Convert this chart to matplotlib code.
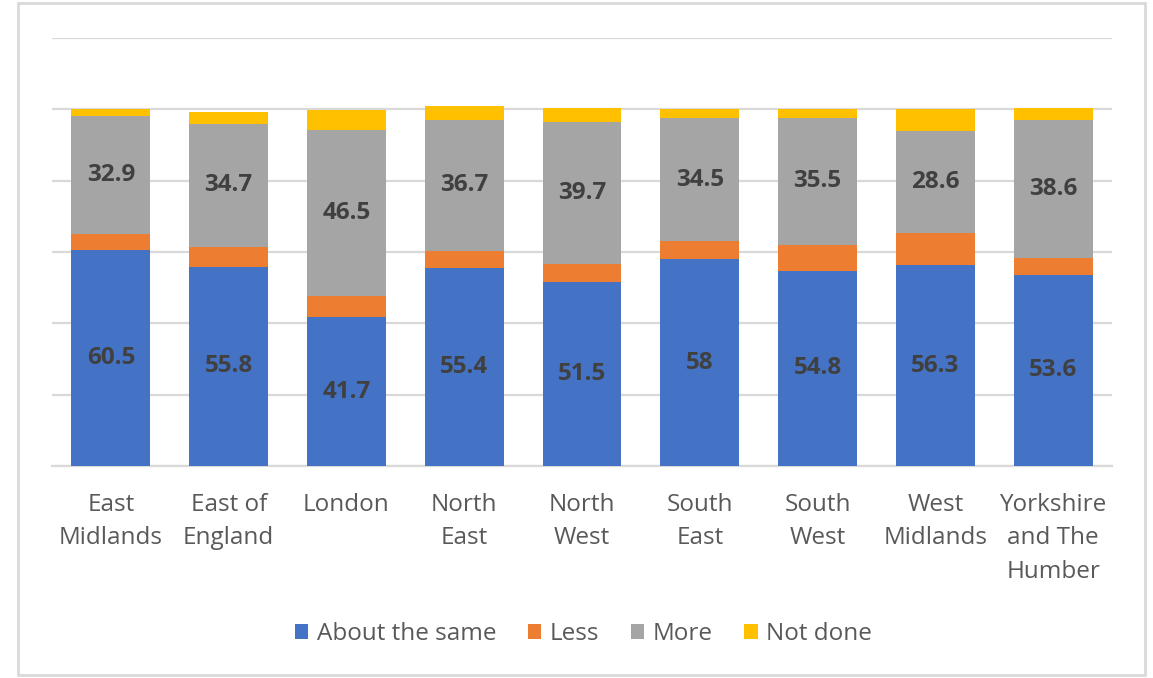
import numpy as np
import matplotlib
matplotlib.use("Agg")
from matplotlib import pyplot as plt
from matplotlib.patches import Rectangle

regiones = ["East\nMidlands", "East of\nEngland", "London", "North\nEast", "North\nWest",
            "South\nEast", "South\nWest", "West\nMidlands", "Yorkshire\nand The\nHumber"]

igual = [60.5, 55.8, 41.7, 55.4, 51.5, 58, 54.8, 56.3, 53.6]
menos = [4.6, 5.5, 6.1, 5.0, 5.2, 5.0, 7.3, 9.1, 4.7]
mas = [32.9, 34.7, 46.5, 36.7, 39.7, 34.5, 35.5, 28.6, 38.6]
no_hecho = [2.1, 3.2, 5.4, 3.8, 4.0, 2.5, 2.4, 6.0, 3.6]

series = [("About the same", igual, "#4472c4", True),
          ("Less", menos, "#ed7d31", False),
          ("More", mas, "#a5a5a5", True),
          ("Not done", no_hecho, "#ffc000", False)]

plt.rcParams["font.family"] = ["Open Sans", "DejaVu Sans"]

fig = plt.figure(figsize=(11.53, 6.78), dpi=100)
ax = fig.add_axes([52 / 1153, 1 - 466 / 678, 1060 / 1153, 428 / 678])

x = np.arange(len(regiones))
base = np.zeros(len(regiones))
for nombre, valores, color, etiqueta in series:
    valores = np.array(valores)
    barras = ax.bar(x, valores, 0.67, bottom=base, color=color, label=nombre, zorder=3)
    if etiqueta:
        ax.bar_label(barras, labels=["{:g}".format(v) for v in valores], label_type="center",
                     fontsize=17.5, fontweight="bold", color="#404040")
    base += valores

# Lineas de grilla y eje
ax.set_ylim(0, 120)
ax.set_xlim(-0.5, len(regiones) - 0.5)
ax.set_yticks(np.arange(0, 121, 20))
ax.yaxis.grid(True, color="#d9d9d9", linewidth=1.6, zorder=0)
ax.tick_params(axis="y", left=False, labelleft=False)
ax.tick_params(axis="x", bottom=False, pad=16)
for lado in ["top", "right", "left"]:
    ax.spines[lado].set_visible(False)
ax.spines["bottom"].set_color("#d9d9d9")
ax.spines["bottom"].set_linewidth(1.6)

ax.set_xticks(x)
ax.set_xticklabels(regiones, fontsize=17.5, color="#595959", va="top", linespacing=1.52)

leg = fig.legend(loc="center", bbox_to_anchor=(0.506, 1 - 634 / 678), ncol=4, frameon=False,
                 fontsize=17.5, handlelength=0.55, handleheight=0.55, handletextpad=0.35,
                 columnspacing=1.3)
for t in leg.get_texts():
    t.set_color("#595959")

# Marco exterior
fig.patches.append(Rectangle((18 / 1153, 3 / 678), 1127 / 1153, 672 / 678, transform=fig.transFigure,
                             fill=False, edgecolor="#d9d9d9", linewidth=2))

fig.savefig("out.png", dpi=100)
